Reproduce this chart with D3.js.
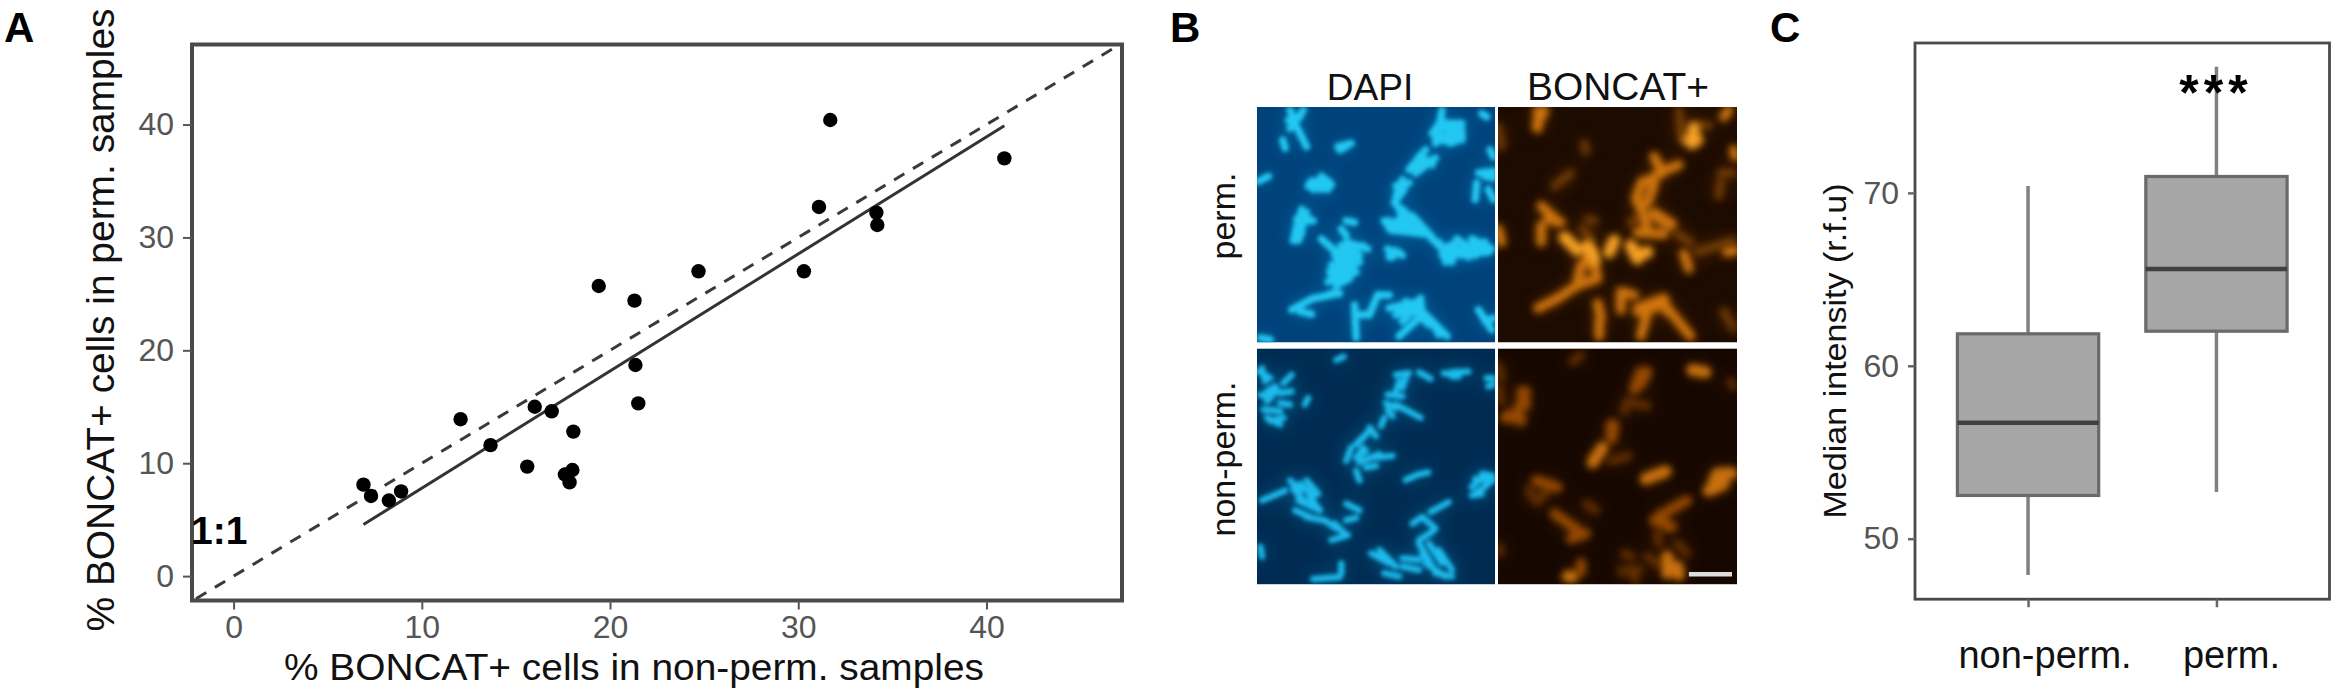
<!DOCTYPE html>
<html><head><meta charset="utf-8">
<script src="https://cdn.jsdelivr.net/npm/d3@7"></script>
<style>html,body{margin:0;padding:0;background:#fff}svg{display:block}text{font-family:"Liberation Sans",Arial,sans-serif}</style>
</head><body><svg id="c" width="2340" height="696"></svg>
<script>
// Panel A data
const nonPermPct=[6.9,7.3,8.25,8.9,12.06,13.65,15.6,16.0,16.9,17.6,18.0,17.85,18.05,19.4,21.3,21.35,21.5,24.7,30.3,31.1,31.7,34.15,34.2,40.95];
const permPct=[8.1,7.1,6.7,7.5,13.9,11.6,9.7,15.0,14.6,9.0,9.4,8.3,12.8,25.7,24.4,18.7,15.3,27.0,27.0,32.7,40.4,32.2,31.1,37.0];
const fitLine=[[6.9,4.57],[40.95,39.9]];
const identityLine=[[-3,-3],[48,48]];
const ticksA=[0,10,20,30,40];
// Panel C data
const boxCategories=["non-perm.","perm."];
const whiskerLow=[47.9,52.7];
const quartile1=[52.5,62.0];
const medians=[56.7,65.6];
const quartile3=[61.85,70.95];
const whiskerHigh=[70.4,77.3];
const ticksC=[50,60,70];
// Panel B rods: [x1,y1,x2,y2] in field coordinates (0-720, 0-714)
const dapiPerm=[[100,10,120,60],[140,10,100,65],[120,60,150,120],[95,40,130,30],[78,100,85,125],[245,120,285,110],[250,130,270,120],[5,225,35,210],[155,240,190,245],[195,210,225,235],[165,225,215,225],[190,250,215,235],[135,310,125,350],[150,320,135,370],[120,360,110,405],[135,380,125,405],[170,345,140,345],[270,345,295,350],[255,370,270,390],[195,400,240,440],[240,440,320,420],[270,410,335,430],[225,480,300,450],[225,510,310,470],[215,530,300,500],[240,540,280,520],[245,460,230,510],[270,430,250,480],[105,615,170,580],[170,580,250,565],[130,620,165,628],[200,575,240,560],[510,130,460,190],[540,155,480,200],[490,150,530,175],[440,220,420,270],[445,250,415,290],[420,290,440,330],[385,345,410,375],[400,370,470,330],[440,310,490,360],[420,375,510,385],[480,340,530,395],[525,395,570,440],[550,410,590,470],[570,470,605,400],[600,450,700,440],[620,425,690,410],[650,400,710,430],[560,450,600,440],[395,430,410,455],[415,435,440,450],[400,455,430,440],[560,10,540,110],[575,50,620,50],[590,50,585,110],[615,50,620,100],[540,100,600,105],[560,40,530,80],[680,20,695,30],[705,130,715,150],[670,200,715,195],[665,230,660,280],[700,250,715,280],[690,210,715,215],[295,600,300,700],[300,630,340,630],[340,630,365,570],[365,570,400,570],[400,610,490,590],[430,620,490,600],[495,580,500,640],[510,630,575,695],[490,640,430,695],[450,620,420,630],[440,650,470,620],[670,615,710,675],[690,650,715,640],[10,700,40,705],[235,450,300,440],[240,490,290,460],[220,500,260,470],[235,525,290,490],[255,420,310,450],[400,345,450,370],[430,340,500,380],[410,350,470,360],[580,420,640,455],[620,410,660,450],[660,410,700,440],[670,415,640,450],[545,60,620,75],[550,90,620,85],[160,230,215,250],[170,250,200,215],[420,240,460,230],[480,170,530,160],[500,165,470,190],[450,590,500,620],[470,610,520,660],[530,650,550,690],[120,340,160,340],[125,370,150,340]];
const dapiNonPerm=[[240,35,262,25],[490,72,525,92],[565,75,600,80],[590,72,640,70],[590,85,610,85],[695,90,715,90],[700,115,715,110],[5,70,40,90],[15,60,25,100],[80,105,105,80],[30,130,55,115],[30,160,60,125],[70,135,105,130],[20,185,70,190],[70,165,100,170],[30,210,70,230],[40,220,80,210],[10,140,40,150],[145,170,155,150],[420,80,460,75],[430,100,420,130],[395,140,440,145],[390,165,420,180],[395,185,410,205],[420,170,495,210],[440,120,450,90],[385,210,375,235],[340,240,360,265],[310,280,345,245],[330,260,300,290],[270,340,285,300],[300,330,330,310],[310,345,370,320],[360,330,410,325],[330,360,360,355],[300,370,310,400],[320,300,310,320],[450,398,480,385],[485,382,518,375],[660,440,700,410],[650,420,690,380],[680,380,712,385],[650,445,680,440],[660,395,715,400],[15,460,85,430],[100,400,130,430],[110,425,150,470],[130,410,170,450],[150,400,185,440],[125,460,190,490],[160,450,190,490],[115,490,160,510],[150,510,200,520],[205,520,240,545],[235,530,265,560],[225,580,275,565],[270,470,310,490],[270,520,300,512],[525,495,580,465],[470,530,500,510],[500,510,540,545],[490,580,530,555],[490,590,525,650],[520,590,560,650],[550,610,590,670],[510,650,570,690],[500,620,545,680],[345,620,400,650],[370,610,420,660],[385,680,430,690],[440,635,490,640],[440,660,490,670],[540,680,590,690],[255,650,255,680],[170,698,250,692],[10,600,15,630]];
const boncatPermBright=[[590,65,585,110],[575,100,600,100],[270,420,285,450],[200,395,240,435],[335,440,350,405],[400,420,420,460],[420,450,450,440],[280,440,290,465]];
const boncatPermMid=[[120,10,120,65],[140,10,115,60],[130,300,185,350],[150,340,190,350],[130,360,130,410],[250,480,240,530],[280,440,250,490],[300,520,240,540],[240,540,180,580],[180,580,120,610],[290,480,300,520],[470,150,495,200],[495,195,545,175],[490,200,450,225],[435,225,415,280],[470,235,450,290],[420,285,440,330],[440,330,450,380],[420,380,500,385],[470,330,520,360],[470,320,525,355],[370,560,370,615],[370,560,410,570],[420,610,500,580],[500,580,510,620],[450,620,430,695],[420,620,500,600],[510,610,580,695],[300,595,310,640],[305,650,305,695],[560,445,575,490],[0,370,10,410],[690,440,715,435],[695,10,680,30],[710,130,715,150]];
const boncatPermFaint=[[600,440,710,405],[540,385,580,410],[260,110,265,135],[290,345,270,340],[255,370,280,400],[170,240,220,200],[0,60,10,120],[545,10,555,100],[590,55,635,55],[670,200,710,200],[670,230,665,270],[680,620,710,670],[400,350,420,340]];
const boncatNonPermBright=[[585,65,625,72],[285,345,315,300],[445,395,505,372],[660,380,705,378],[635,430,680,410],[650,400,690,380],[510,630,510,680],[540,660,545,685],[210,690,225,690]];
const boncatNonPermMid=[[70,130,85,170],[85,130,60,190],[20,210,70,210],[30,200,70,220],[430,70,410,125],[450,70,430,110],[340,230,340,275],[350,230,345,270],[115,400,180,420],[170,500,240,550],[220,575,265,560],[515,490,570,460],[470,520,525,540],[490,500,510,540],[250,650,250,675]];
const boncatNonPermFaint=[[225,40,250,20],[0,50,10,90],[0,120,10,160],[380,190,390,160],[390,160,450,175],[340,340,395,325],[95,425,100,445],[115,465,150,430],[265,470,295,490],[480,560,485,590],[370,675,425,670],[380,620,400,630],[450,630,480,650],[410,690,415,700],[5,600,5,620],[540,590,570,620],[700,100,710,115]];
const scaleBarField=[[575,683],[705,683]];

const svg=d3.select("#c");
const defs=svg.append("defs");
[["b1",2],["b2",3.6],["g",9]].forEach(([id,s])=>defs.append("filter").attr("id",id).attr("filterUnits","userSpaceOnUse").attr("x",0).attr("y",0).attr("width",2340).attr("height",696).append("feGaussianBlur").attr("stdDeviation",s));

const txt=(g,x,y,s,size,o={})=>g.append("text").attr("x",x).attr("y",y).text(s).attr("font-size",size)
  .attr("fill",o.fill||"#111").attr("text-anchor",o.anchor||"middle").attr("font-weight",o.weight||"normal");
const rot=(g,x,y,s,size,len)=>{const t=g.append("text").attr("transform",`translate(${x},${y}) rotate(-90)`).text(s).attr("font-size",size).attr("fill","#111").attr("text-anchor","middle");
  if(len)t.attr("textLength",len).attr("lengthAdjust","spacingAndGlyphs");return t;};

// Panel letters
[["A",4,"start"],["B",1170,"start"],["C",1770,"start"]].forEach(([s,x,a])=>txt(svg,x,42,s,42,{weight:"bold",anchor:a,fill:"#000"}));

// ---- Panel A
const FA={l:192,r:1122,t:44.5,b:600.5};
const xA=d3.scaleLinear().domain([-2.21,47.2]).range([FA.l,FA.r]);
const yA=d3.scaleLinear().domain([-2.16,47.09]).range([FA.b,FA.t]);
const gA=svg.append("g");
defs.append("clipPath").attr("id","clipA").append("rect").attr("x",FA.l).attr("y",FA.t).attr("width",FA.r-FA.l).attr("height",FA.b-FA.t);
const lineA=d3.line().x(d=>xA(d[0])).y(d=>yA(d[1]));
gA.append("path").attr("d",lineA(identityLine)).attr("clip-path","url(#clipA)").attr("fill","none").attr("stroke","#3a3a3a").attr("stroke-width",3).attr("stroke-dasharray","12,10");
gA.append("path").attr("d",lineA(fitLine)).attr("fill","none").attr("stroke","#333").attr("stroke-width",3);
gA.selectAll("circle").data(nonPermPct).join("circle").attr("cx",d=>xA(d)).attr("cy",(d,i)=>yA(permPct[i])).attr("r",7.2).attr("fill","#000");
gA.append("rect").attr("x",FA.l).attr("y",FA.t).attr("width",FA.r-FA.l).attr("height",FA.b-FA.t).attr("fill","none").attr("stroke","#4a4a4a").attr("stroke-width",4);
const axA=gA.append("g").attr("transform",`translate(0,${FA.b})`).call(d3.axisBottom(xA).tickValues(ticksA).tickSize(9).tickPadding(6));
const ayA=gA.append("g").attr("transform",`translate(${FA.l},0)`).call(d3.axisLeft(yA).tickValues(ticksA).tickSize(9).tickPadding(9));
[axA,ayA].forEach(a=>{a.select(".domain").remove();a.selectAll("line").attr("stroke","#555").attr("stroke-width",2);a.selectAll("text").attr("font-size",32).attr("fill","#555").attr("font-family",'"Liberation Sans"');});
txt(gA,634,680,"% BONCAT+ cells in non-perm. samples",37).attr("textLength",700).attr("lengthAdjust","spacingAndGlyphs");
rot(gA,114,320,"% BONCAT+ cells in perm. samples",38,623);
txt(gA,191,544,"1:1",39,{weight:"bold",anchor:"start",fill:"#000"});

// ---- Panel B
const tiles=[
 {x:1257,y:107,w:238,h:235.5,bg:"#00427a",col:"#22c8f2",groups:[[dapiPerm,1,7.4,"b1"]],glow:"#00a0e0"},
 {x:1498,y:107,w:239,h:235.5,bg:"#1c0b00",col:"#d87a10",groups:[[boncatPermFaint,.38,8,"b2"],[boncatPermMid,.95,9.5,"b2"],[boncatPermBright,1,12,"b2"]],glow:"#c06000",bright:"#f5a020"},
 {x:1257,y:348.4,w:238,h:236,bg:"#002c52",col:"#1cbcec",groups:[[dapiNonPerm,1,6.2,"b1"]],glow:"#0090d0"},
 {x:1498,y:348.4,w:239,h:236,bg:"#160800",col:"#a85206",groups:[[boncatNonPermFaint,.45,8,"b2"],[boncatNonPermMid,.85,10,"b2"],[boncatNonPermBright,1,12,"b2"]],glow:"#a05000",bright:"#c87008"}
];
tiles.forEach((t,i)=>{
  const sx=d3.scaleLinear().domain([0,720]).range([t.x,t.x+t.w]);
  const sy=d3.scaleLinear().domain([0,714]).range([t.y,t.y+t.h]);
  defs.append("clipPath").attr("id","tile"+i).append("rect").attr("x",t.x).attr("y",t.y).attr("width",t.w).attr("height",t.h);
  const g=svg.append("g").attr("clip-path","url(#tile"+i+")");
  g.append("rect").attr("x",t.x).attr("y",t.y).attr("width",t.w).attr("height",t.h).attr("fill",t.bg);
  const all=t.groups.flatMap(d=>d[0]);
  g.append("g").attr("filter","url(#g)").attr("opacity",.42).selectAll("line").data(all).join("line")
    .attr("x1",d=>sx(d[0])).attr("y1",d=>sy(d[1])).attr("x2",d=>sx(d[2])).attr("y2",d=>sy(d[3]))
    .attr("stroke",t.glow).attr("stroke-width",8).attr("stroke-linecap","round");
  t.groups.forEach(([rods,op,w,f],k)=>{
    g.append("g").attr("filter",`url(#${f})`).attr("opacity",op).selectAll("line").data(rods).join("line")
     .attr("x1",d=>sx(d[0])).attr("y1",d=>sy(d[1])).attr("x2",d=>sx(d[2])).attr("y2",d=>sy(d[3]))
     .attr("stroke",k===2?t.bright:t.col).attr("stroke-width",w).attr("stroke-linecap","round");
  });
  if(i===3) g.append("path").attr("d",d3.line().x(d=>sx(d[0])).y(d=>sy(d[1]))(scaleBarField)).attr("stroke","#ddd").attr("stroke-width",4.5).attr("fill","none");
});
txt(svg,1370,100,"DAPI",37);
txt(svg,1618,100,"BONCAT+",38).attr("textLength",182).attr("lengthAdjust","spacingAndGlyphs");
rot(svg,1235,216,"perm.",34);
rot(svg,1235,459,"non-perm.",34);

// ---- Panel C
const FC={l:1915,r:2329.5,t:43,b:599.2};
const xC=d3.scalePoint().domain(boxCategories).range([FC.l,FC.r]).padding(0.6);
const yC=d3.scaleLinear().domain([46.5,78.67]).range([FC.b,FC.t]);
const gC=svg.append("g");
const boxW=xC.step()*0.75;
boxCategories.forEach((c,i)=>{
  const cx=xC(c);
  gC.append("line").attr("x1",cx).attr("x2",cx).attr("y1",yC(whiskerLow[i])).attr("y2",yC(whiskerHigh[i])).attr("stroke","#808080").attr("stroke-width",3.5);
  gC.append("rect").attr("x",cx-boxW/2).attr("width",boxW).attr("y",yC(quartile3[i])).attr("height",yC(quartile1[i])-yC(quartile3[i])).attr("fill","#a6a6a6").attr("stroke","#6a6a6a").attr("stroke-width",3.2);
  gC.append("line").attr("x1",cx-boxW/2).attr("x2",cx+boxW/2).attr("y1",yC(medians[i])).attr("y2",yC(medians[i])).attr("stroke","#404040").attr("stroke-width",4.5);
});
gC.append("rect").attr("x",FC.l).attr("y",FC.t).attr("width",FC.r-FC.l).attr("height",FC.b-FC.t).attr("fill","none").attr("stroke","#4a4a4a").attr("stroke-width",2.8);
const ayC=gC.append("g").attr("transform",`translate(${FC.l},0)`).call(d3.axisLeft(yC).tickValues(ticksC).tickSize(7).tickPadding(9));
const axC=gC.append("g").attr("transform",`translate(0,${FC.b})`).call(d3.axisBottom(xC).tickSize(8).tickFormat(""));
[ayC,axC].forEach(a=>{a.select(".domain").remove();a.selectAll("line").attr("stroke","#666").attr("stroke-width",2.5);a.selectAll("text").attr("font-size",32).attr("fill","#555").attr("font-family",'"Liberation Sans"');});
boxCategories.forEach((c,i)=>txt(gC,xC(c)+[17,15][i],668,c,38));
rot(gC,1846,351,"Median intensity (r.f.u)",31,335);
txt(gC,2216,110,"***",50,{fill:"#000",weight:"bold"}).attr("letter-spacing",5);
</script></body></html>
